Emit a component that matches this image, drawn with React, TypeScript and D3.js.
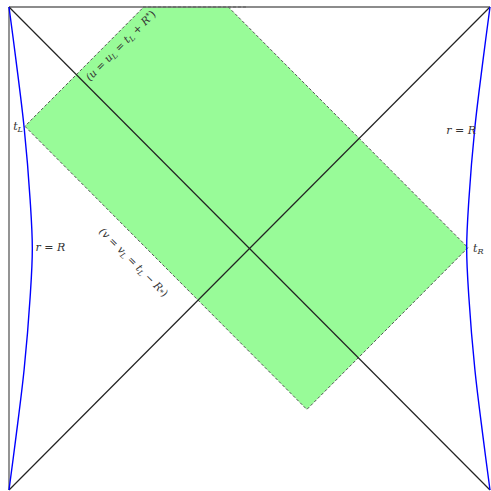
import React from "react";
import * as d3 from "d3";

// Null-coordinate extent of the shaded region (u = T - X, v = T + X, diagram units)
const regionU = [-0.905, 1.44];
const regionV = [-0.428, 0.912];

// r = R curves: time coordinate T and inward offset from the boundary edge
const curveT = [1, 0.78, 0.5, 0.2, 0, -0.2, -0.5, -0.78, -1];
const curveOffset = [0, 0.029, 0.063, 0.088, 0.097, 0.088, 0.063, 0.029, 0];

// Dashed segment along the top boundary (X range)
const topDashX = [-0.443, -0.006];

// where the edge labels sit along the region edges (null coordinate)
const labelUAt = 0.304; // v position along u = uL edge
const labelVAt = 0.424; // u position along v = vL edge

const W = 491;
const H = 491;

export default function App() {
  const x = d3.scaleLinear().domain([-1, 1]).range([9, 490]);
  const y = d3.scaleLinear().domain([-1, 1]).range([490, 7]);

  const toXY = (u: number, v: number): [number, number] => [x((v - u) / 2), y((u + v) / 2)];

  const [uR, uL] = regionU;
  const [vB, vT] = regionV;
  const pts: [number, number][] = [
    toXY(uL, vB), // tL
    toXY(uR, vB), // bottom
    toXY(uR, vT), // tR
    toXY(uL, vT), // top (clipped)
  ];
  const polyPath = d3.line()(pts.concat([pts[0]]) as [number, number][]) || "";

  const line = d3
    .line<[number, number]>()
    .x((d) => x(d[0]))
    .y((d) => y(d[1]))
    .curve(d3.curveCatmullRom.alpha(0.5));

  const leftCurve = line(curveT.map((t, i) => [-1 + curveOffset[i], t] as [number, number])) || "";
  const rightCurve = line(curveT.map((t, i) => [1 - curveOffset[i], t] as [number, number])) || "";

  const tL = pts[0];
  const tR = pts[2];

  const mid1 = toXY(uL, labelUAt);
  const mid2 = toXY(labelVAt, vB);

  const font = "'DejaVu Serif', 'Liberation Serif', serif";
  const txtColor = "#333";

  return (
    <svg
      width={W}
      height={H}
      style={{ position: "absolute", left: 0, top: 0, background: "#fff" }}
    >
      <defs>
        <clipPath id="sq">
          <rect x={x(-1)} y={y(1)} width={x(1) - x(-1)} height={y(-1) - y(1)} />
        </clipPath>
      </defs>
      <g clipPath="url(#sq)">
        <path d={polyPath} fill="#98fb98" stroke="#555" strokeWidth={1} strokeDasharray="3,2" />
      </g>
      <line x1={x(topDashX[0])} x2={x(topDashX[1])} y1={y(1)} y2={y(1)} stroke="#444" strokeWidth={1.2} strokeDasharray="3,2" />
      {/* boundary */}
      <line x1={x(-1)} x2={x(1)} y1={y(1)} y2={y(1)} stroke="#666" strokeWidth={1.4} />
      <line x1={x(-1)} x2={x(-1)} y1={y(1)} y2={y(-1)} stroke="#666" strokeWidth={1.4} />
      {/* horizons */}
      <line x1={x(-1)} y1={y(1)} x2={x(1)} y2={y(-1)} stroke="#222" strokeWidth={1.2} />
      <line x1={x(-1)} y1={y(-1)} x2={x(1)} y2={y(1)} stroke="#222" strokeWidth={1.2} />
      {/* r = R curves */}
      <path d={leftCurve} fill="none" stroke="#0000ff" strokeWidth={1.4} />
      <path d={rightCurve} fill="none" stroke="#0000ff" strokeWidth={1.4} />

      <g fontFamily={font} fontStyle="italic" fill={txtColor} fontSize={11}>
        <text x={tL[0] - 2} y={tL[1] + 4} textAnchor="end">
          t<tspan fontSize={8} dy={2}>L</tspan>
        </text>
        <text x={tR[0] + 5} y={tR[1] + 4} textAnchor="start">
          t<tspan fontSize={8} dy={2}>R</tspan>
        </text>
        <text x={x(-1 + 0.11)} y={y(-0.01)} textAnchor="start">
          r <tspan fontStyle="normal">=</tspan> R
        </text>
        <text x={x(1 - 0.058)} y={y(0.475)} textAnchor="end">
          r <tspan fontStyle="normal">=</tspan> R
        </text>
        <text
          transform={`translate(${mid1[0] + 10.3},${mid1[1] + 10.3}) rotate(-45)`}
          textAnchor="middle"
          fontSize={10.5}
        >
          (u <tspan fontStyle="normal">=</tspan> u
          <tspan fontSize={7.5} dy={2}>L</tspan>
          <tspan dy={-2} fontStyle="normal"> = </tspan>t
          <tspan fontSize={7.5} dy={2}>L</tspan>
          <tspan dy={-2} fontStyle="normal"> + </tspan>R
          <tspan fontSize={7.5} dy={-3}>*</tspan>
          <tspan dy={3} fontStyle="normal">)</tspan>
        </text>
        <text
          transform={`translate(${mid2[0] - 15.8},${mid2[1] + 15.8}) rotate(45)`}
          textAnchor="middle"
          fontSize={10.5}
        >
          (v <tspan fontStyle="normal">=</tspan> v
          <tspan fontSize={7.5} dy={2}>L</tspan>
          <tspan dy={-2} fontStyle="normal"> = </tspan>t
          <tspan fontSize={7.5} dy={2}>L</tspan>
          <tspan dy={-2} fontStyle="normal"> − </tspan>R
          <tspan fontSize={7.5} dy={1}>*</tspan>
          <tspan dy={-1} fontStyle="normal">)</tspan>
        </text>
      </g>
    </svg>
  );
}
